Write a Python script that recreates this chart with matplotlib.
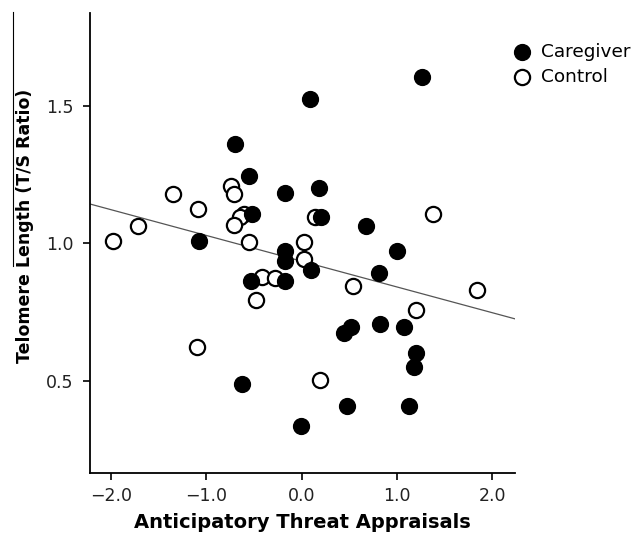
import matplotlib
matplotlib.use("Agg")
import matplotlib.pyplot as plt
from matplotlib.lines import Line2D
import numpy as np

# values
caregiver_x = [1.262, 0.087, -0.697, -0.556, -0.172, 0.178, -0.52, 0.20, 0.675, -1.08,
               -0.175, -0.175, 1.003, 0.094, 0.811, -0.535, -0.175, 0.524, 0.447, 0.822,
               1.073, 1.196, 1.178, -0.623, 0.472, 1.129, -0.01]
caregiver_y = [1.605, 1.524, 1.360, 1.246, 1.184, 1.202, 1.105, 1.097, 1.063, 1.010,
               0.973, 0.937, 0.973, 0.903, 0.893, 0.863, 0.863, 0.697, 0.673, 0.707,
               0.697, 0.600, 0.552, 0.488, 0.409, 0.409, 0.335]
control_x = [-1.354, -0.745, -0.710, -1.088, -1.718, -0.60, -0.65, -0.71, 0.143, -1.977,
             -0.556, 0.024, 0.024, -0.413, -0.28, -0.48, -1.096, 0.192, 1.381, 0.535,
             1.836, 1.196]
control_y = [1.180, 1.209, 1.178, 1.125, 1.063, 1.108, 1.095, 1.066, 1.097, 1.009,
             1.004, 1.004, 0.942, 0.879, 0.875, 0.794, 0.624, 0.503, 1.105, 0.846,
             0.830, 0.758]
fit_intercept = 0.935
fit_slope = -0.0935
x_ticks = [-2.0, -1.0, 0.0, 1.0, 2.0]
y_ticks = [0.5, 1.0, 1.5]

fig = plt.figure(figsize=(6.32, 5.36), dpi=100)
ax = fig.add_axes([0.1424, 0.1181, 0.6725, 0.8576])

xl = np.array([-2.22, 2.24])
ax.plot(xl, fit_intercept + fit_slope * xl, color="#555555", lw=0.9, zorder=1)

ax.scatter(caregiver_x, caregiver_y, s=130, c="black", edgecolors="black",
           linewidths=1.0, zorder=3, label="Caregiver")
ax.scatter(control_x, control_y, s=120, facecolors="white", edgecolors="black",
           linewidths=1.6, zorder=2, label="Control")

ax.set_xlim(-2.22, 2.24)
ax.set_ylim(0.167, 1.836)
ax.set_xticks(x_ticks)
ax.set_xticklabels(["\u22122.0", "\u22121.0", "0.0", "1.0", "2.0"])
ax.set_yticks(y_ticks)
ax.set_yticklabels(["0.5", "1.0", "1.5"])

for s in ["top", "right"]:
    ax.spines[s].set_visible(False)
for s in ["left", "bottom"]:
    ax.spines[s].set_linewidth(1.3)
ax.tick_params(direction="out", length=5, width=1.2, labelsize=12.5,
               colors="black", labelcolor="#222222")
ax.tick_params(axis="y", pad=7)
ax.tick_params(axis="x", pad=5)

ax.set_xlabel("Anticipatory Threat Appraisals", fontsize=14, fontweight="bold", labelpad=6)
ax.set_ylabel("Telomere Length (T/S Ratio)", fontsize=12.5, fontweight="bold")
ax.yaxis.set_label_coords(-0.132, 0.537)

ax.legend(loc="upper left", bbox_to_anchor=(0.797, 0.92), bbox_transform=fig.transFigure,
          frameon=False, fontsize=13.3, handletextpad=0.0, labelspacing=0.4,
          borderaxespad=0, borderpad=0, scatterpoints=1)

# thin rule left of the y label, as in the reference image
fig.add_artist(Line2D([12.7 / 632, 12.7 / 632], [1 - 12 / 536, 1 - 266 / 536],
                      transform=fig.transFigure, color="black", lw=0.8))

fig.savefig("out.png", dpi=100)
